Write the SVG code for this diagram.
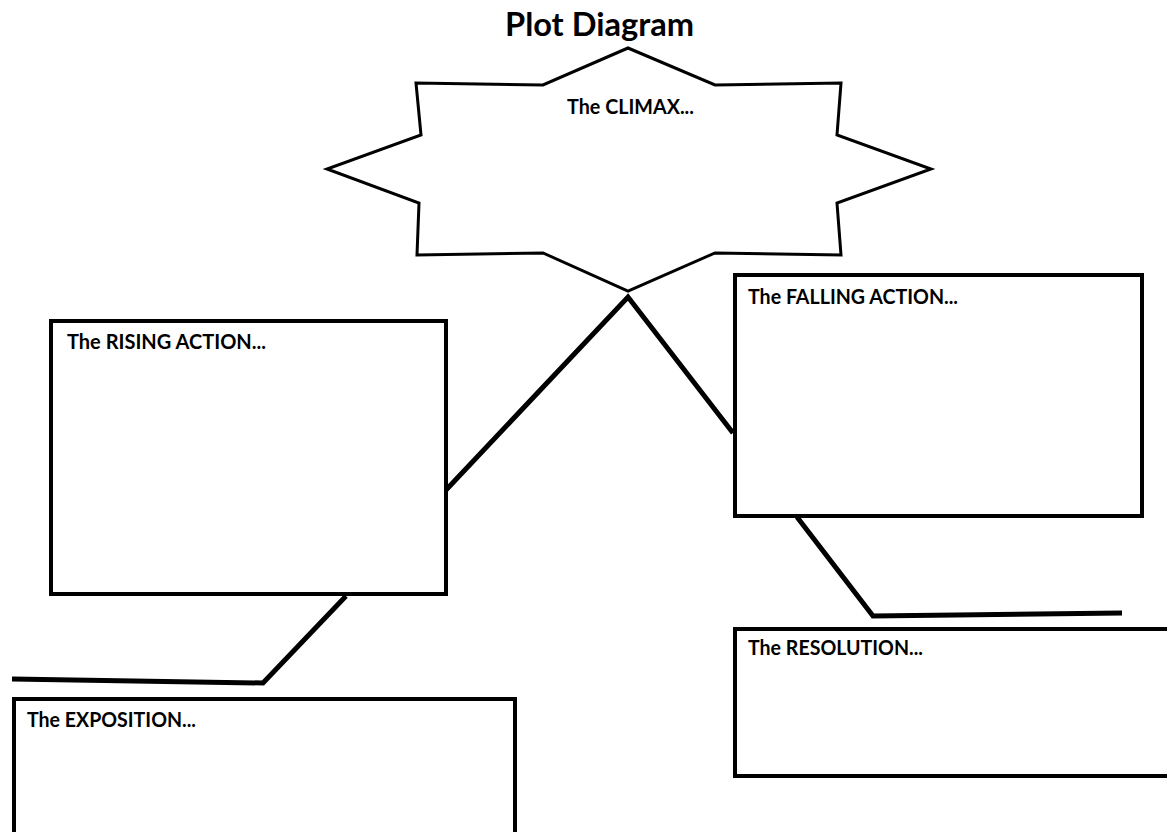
<svg xmlns="http://www.w3.org/2000/svg" width="1167" height="832" viewBox="0 0 1167 832">
<style>
.box{fill:#fff;stroke:#000;stroke-width:4}
.star{fill:#fff;stroke:#000;stroke-width:3;stroke-linejoin:miter}
.con{fill:none;stroke:#000;stroke-width:5;stroke-linejoin:miter}
.lbl{font-family:Lato,"Open Sans","Liberation Sans",sans-serif;font-weight:bold;font-size:20px;fill:#000}
.title{font-family:Lato,"Open Sans","Liberation Sans",sans-serif;font-weight:bold;font-size:32px;fill:#000}
</style>
<rect width="1167" height="832" fill="#fff"/>
<text class="title" x="505" y="36" textLength="189" lengthAdjust="spacingAndGlyphs">Plot Diagram</text>
<g id="connectors">
<polyline class="con" points="446,490 628,297 733,433"/>
<polyline class="con" points="346,596 263,683 12,679"/>
<polyline class="con" points="797,517 873,616 1122,613"/>
</g>
<g id="climax">
<polygon class="star" points="628,48 715,85 841,83 837,135 931,169 837,203 841,255 715,253 628,291 543,253 417,255 419,203 327,169 421,135 416,83 543,85"/>
<text class="lbl" x="567" y="114" textLength="127" lengthAdjust="spacingAndGlyphs">The CLIMAX...</text>
</g>
<g id="rising">
<rect class="box" x="51" y="321" width="395" height="273"/>
<text class="lbl" x="67" y="349" textLength="199" lengthAdjust="spacingAndGlyphs">The RISING ACTION...</text>
</g>
<g id="falling">
<rect class="box" x="735" y="275" width="407" height="241"/>
<text class="lbl" x="748" y="304" textLength="210" lengthAdjust="spacingAndGlyphs">The FALLING ACTION...</text>
</g>
<g id="resolution">
<rect class="box" x="735" y="629" width="460" height="147"/>
<text class="lbl" x="748" y="655" textLength="175" lengthAdjust="spacingAndGlyphs">The RESOLUTION...</text>
</g>
<g id="exposition">
<rect class="box" x="14" y="699" width="501" height="200"/>
<text class="lbl" x="27" y="727" textLength="169" lengthAdjust="spacingAndGlyphs">The EXPOSITION...</text>
</g>
</svg>
